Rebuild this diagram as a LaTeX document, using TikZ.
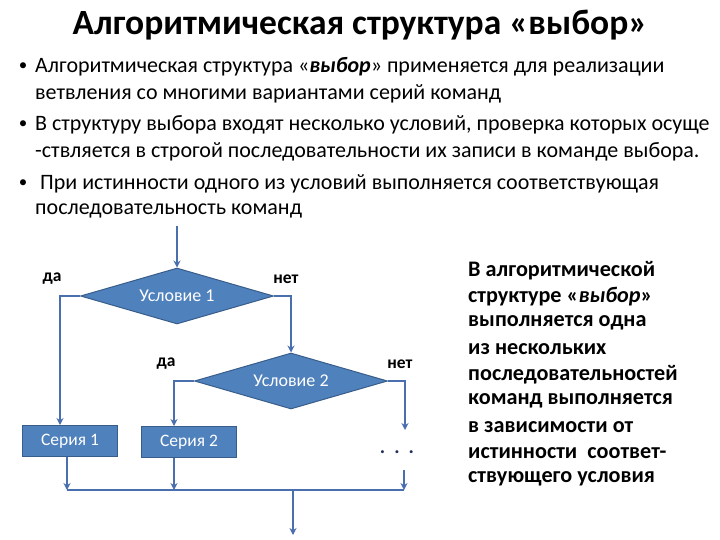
\documentclass[tikz,border=0pt]{standalone}
\usepackage{fontspec}
\setmainfont{Carlito}
\usetikzlibrary{shapes.geometric,arrows.meta}
\definecolor{boxfill}{HTML}{4F81BD}
\definecolor{boxline}{HTML}{385D8A}
\definecolor{conn}{HTML}{4A6FAE}
\definecolor{dotc}{HTML}{1F2F5A}
\tikzset{
  cond/.style={diamond,aspect=3.45,fill=boxfill,draw=boxline,line width=1pt,minimum width=193pt,minimum height=56pt,inner sep=0pt,text=white,font=\fontsize{18}{21}\selectfont},
  seriesbox/.style={rectangle,fill=boxfill,draw=boxline,line width=1pt,minimum width=95pt,minimum height=31pt,inner sep=0pt,text=white,font=\fontsize{17.5}{21}\selectfont},
  conn/.style={draw=conn,line width=1.5pt},
  arr/.style={conn,-{Stealth[length=7pt,width=7pt]}},
  lbl/.style={font=\bfseries\fontsize{17.5}{21}\selectfont,inner sep=0pt},
  bul/.style={anchor=west,inner sep=0pt,font=\fontsize{22}{26}\selectfont},
  rtxt/.style={anchor=west,inner sep=0pt,font=\bfseries\fontsize{22.2}{26}\selectfont},
}
\begin{document}
\begin{tikzpicture}[x=1pt,y=-1pt]
\useasboundingbox (0,0) rectangle (720,540);
\fill[white] (0,0) rectangle (720,540);
% title
\node[font=\bfseries\fontsize{35.5}{40}\selectfont,inner sep=0pt] (title) at (360,25) {Алгоритмическая структура «выбор»};
% bullets
\node[bul,anchor=center,font=\fontsize{17}{20}\selectfont] (b1) at (23,67) {•};
\node[bul] (t1a) at (35,67) {Алгоритмическая структура «\textbf{\textit{выбор}}» применяется для реализации};
\node[bul] (t1b) at (35,94) {ветвления со многими вариантами серий команд};
\node[bul,anchor=center,font=\fontsize{17}{20}\selectfont] (b2) at (23,125) {•};
\node[bul] (t2a) at (35,125) {В структуру выбора входят несколько условий, проверка которых осуще};
\node[bul] (t2b) at (35,152) {-ствляется в строгой последовательности их записи в команде выбора.};
\node[bul,anchor=center,font=\fontsize{17}{20}\selectfont] (b3) at (23,184) {•};
\node[bul] (t3a) at (40,184) {При истинности одного из условий выполняется соответствующая};
\node[bul] (t3b) at (35,211) {последовательность команд};
% right text
\node[rtxt] (r1) at (468,271) {В алгоритмической};
\node[rtxt] (r2) at (468,297) {структуре «\textit{выбор}»};
\node[rtxt] (r3) at (468,323) {выполняется одна};
\node[rtxt] (r4) at (468,349) {из нескольких};
\node[rtxt] (r5) at (468,375) {последовательностей};
\node[rtxt] (r6) at (468,401) {команд выполняется};
\node[rtxt] (r7) at (468,427) {в зависимости от};
\node[rtxt] (r8) at (468,453) {истинности\ \ соответ-};
\node[rtxt] (r9) at (468,479) {ствующего условия};
% flowchart
\node[cond] (d1) at (177,296) {Условие 1};
\node[cond] (d2) at (291,381) {Условие 2};
\node[seriesbox] (s1) at (70,441) {Серия 1};
\node[seriesbox] (s2) at (189,442) {Серия 2};
\node[font=\bfseries\fontsize{20}{24}\selectfont,text=dotc,inner sep=0pt] (dots) at (397,452) {.\hspace{9pt}.\hspace{9pt}.};
\node[lbl] (da1) at (52,279) {да};
\node[lbl] (net1) at (286,279) {нет};
\node[lbl] (da2) at (166,364) {да};
\node[lbl] (net2) at (400,364) {нет};
\coordinate (start) at (177,226);
\coordinate (e3) at (405,430);
\coordinate (j1) at (67,490);
\coordinate (j2) at (174,490);
\coordinate (j3) at (404,490);
\coordinate (k3) at (404,470);
\coordinate (jm) at (293,490);
\coordinate (out) at (293,535);
\draw[arr] (start) -- (d1.north);
\draw[arr] (d1.west) -| ([xshift=-10pt]s1.north);
\draw[arr] (d1.east) -| (d2.north);
\draw[arr] (d2.west) -| ([xshift=-15pt]s2.north);
\draw[arr] (d2.east) -| (e3);
\draw[arr] ([xshift=-3pt]s1.south) -- (j1);
\draw[arr] ([xshift=-15pt]s2.south) -- (j2);
\draw[arr] (k3) -- (j3);
\draw[conn] (j1) -- (j3);
\draw[arr] (jm) -- (out);
\end{tikzpicture}
\end{document}
